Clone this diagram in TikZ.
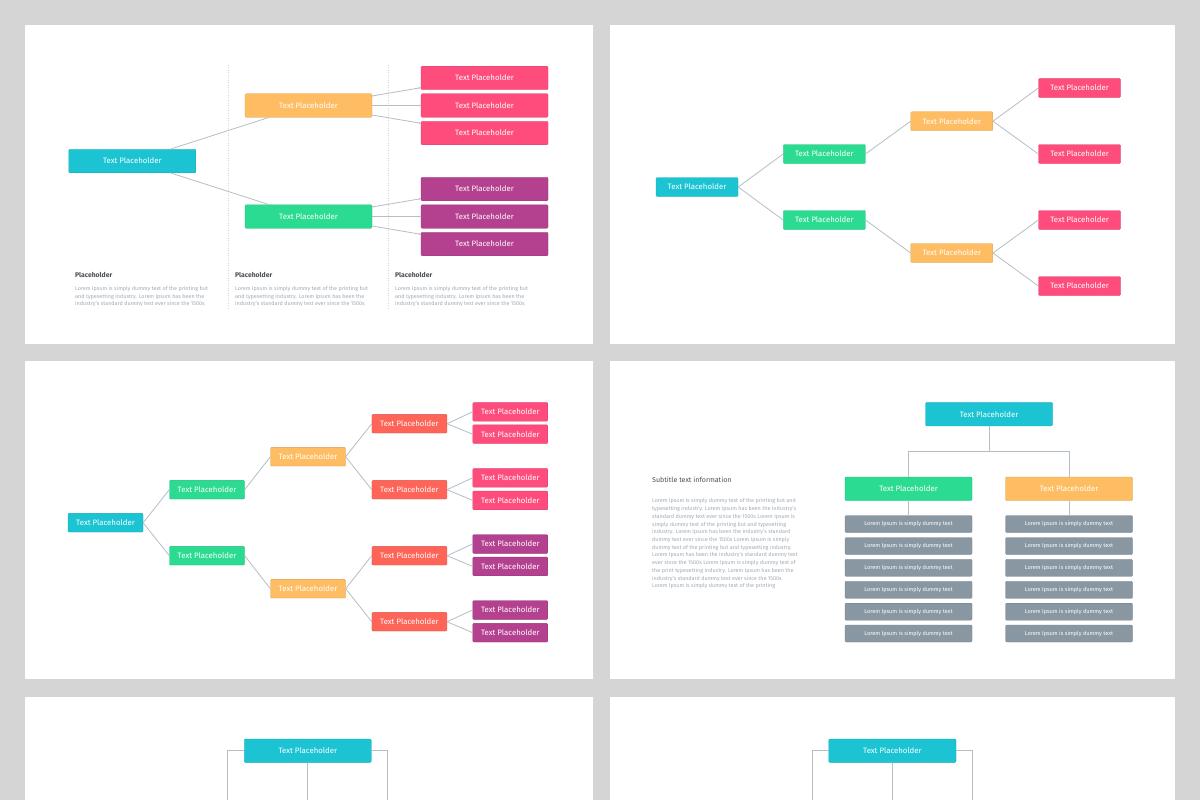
\documentclass[tikz,border=0pt]{standalone}
\usepackage{fontspec}
\setmainfont{Fira Sans}
\usetikzlibrary{calc,arrows.meta}
\definecolor{bg}{HTML}{D5D5D5}
\definecolor{ccyan}{HTML}{1CC4D3}
\definecolor{cgreen}{HTML}{2BDB91}
\definecolor{corange}{HTML}{FEBD62}
\definecolor{cpink}{HTML}{FE4D7C}
\definecolor{cpurple}{HTML}{B3418F}
\definecolor{ccoral}{HTML}{FE6558}
\definecolor{cgray}{HTML}{8897A2}
\definecolor{cline}{HTML}{B4BEC6}
\definecolor{ctitle}{HTML}{4A4F55}
\definecolor{clorem}{HTML}{A3ABB3}
\tikzset{
  panel/.style={fill=white, draw=none},
  tbox/.style={rounded corners=1pt, text=white, inner sep=0pt, align=center,
    font=\fontsize{7.8}{9}\selectfont, draw=#1!85!black, line width=0.3pt, fill=#1},
  bigbox/.style={tbox=#1, minimum width=127pt, minimum height=23.5pt},
  smallbox/.style={tbox=#1, minimum width=82pt, minimum height=19pt},
  midbox/.style={tbox=#1, minimum width=75pt, minimum height=18.7pt},
  graybox/.style={tbox=cgray, minimum width=127pt, minimum height=17pt, font=\fontsize{5.6}{6.5}\selectfont},
  conn/.style={draw=cline, line width=0.8pt},
  arr/.style={conn, -{Stealth[length=2pt,width=2pt]}},
  guide/.style={draw=cline!60, line width=0.5pt, dotted},
  ttl/.style={text=ctitle, inner sep=0pt, anchor=west, font=\fontsize{7}{8}\selectfont},
  lorem/.style={text=clorem, inner sep=0pt, anchor=north west, align=left, font=\fontsize{5.45}{7.6}\selectfont},
}
\begin{document}
\begin{tikzpicture}[x=1pt,y=-1pt]
\fill[bg] (0,0) rectangle (1200,800);
\useasboundingbox (0,0) rectangle (1200,800);
% panels
\fill[panel] (25,25) rectangle (593,344);
\fill[panel] (610,25) rectangle (1175,344);
\fill[panel] (25,361) rectangle (593,679);
\fill[panel] (610,361) rectangle (1175,679);
\fill[panel] (25,697) rectangle (593,800);
\fill[panel] (610,697) rectangle (1175,800);

% ---------------- slide 1
\coordinate (d1a) at (228,65); \coordinate (d1b) at (228,308);
\coordinate (d2a) at (388.5,65); \coordinate (d2b) at (388.5,308);
\draw[guide] (d1a) -- (d1b);
\draw[guide] (d2a) -- (d2b);
\node[bigbox=ccyan] (a0) at (132.3,161) {Text Placeholder};
\node[bigbox=corange] (a1) at (308.5,105.5) {Text Placeholder};
\node[bigbox=cgreen] (a2) at (308.5,216.5) {Text Placeholder};
\node[bigbox=cpink] (p1) at (484.5,78) {Text Placeholder};
\node[bigbox=cpink] (p2) at (484.5,105.5) {Text Placeholder};
\node[bigbox=cpink] (p3) at (484.5,133) {Text Placeholder};
\node[bigbox=cpurple] (q1) at (484.5,189) {Text Placeholder};
\node[bigbox=cpurple] (q2) at (484.5,216.5) {Text Placeholder};
\node[bigbox=cpurple] (q3) at (484.5,244) {Text Placeholder};
\draw[conn] ($(a0.north west)!0.8!(a0.north east)$) -- ($(a1.south west)!0.19!(a1.south east)$);
\draw[conn] ($(a0.south west)!0.8!(a0.south east)$) -- ($(a2.north west)!0.19!(a2.north east)$);
\draw[arr] ([yshift=9.5pt]a1.east) -- ([yshift=-9.7pt]p1.west);
\draw[arr] (a1.east) -- (p2.west);
\draw[arr] ([yshift=-9.5pt]a1.east) -- ([yshift=9.7pt]p3.west);
\draw[arr] ([yshift=9.5pt]a2.east) -- ([yshift=-9.7pt]q1.west);
\draw[arr] (a2.east) -- (q2.west);
\draw[arr] ([yshift=-9.5pt]a2.east) -- ([yshift=9.7pt]q3.west);
\foreach \x/\n in {75/c1,235/c2,395/c3}{
  \node[ttl, font=\fontsize{6.8}{8}\selectfont\bfseries] (\n t) at (\x,275) {Placeholder};
  \node[lorem] (\n l) at (\x,286.3) {Lorem Ipsum is simply dummy text of the printing but\\and typesetting industry. Lorem Ipsum has been the\\industry's standard dummy text ever since the 1500s};
}

% ---------------- slide 2
\node[smallbox=ccyan] (b0) at (697,187) {Text Placeholder};
\node[smallbox=cgreen] (b1) at (824.3,154) {Text Placeholder};
\node[smallbox=cgreen] (b2) at (824.3,220) {Text Placeholder};
\node[smallbox=corange] (b3) at (951.8,121.2) {Text Placeholder};
\node[smallbox=corange] (b4) at (951.8,253) {Text Placeholder};
\node[smallbox=cpink] (b5) at (1079.5,88) {Text Placeholder};
\node[smallbox=cpink] (b6) at (1079.5,154) {Text Placeholder};
\node[smallbox=cpink] (b7) at (1079.5,220) {Text Placeholder};
\node[smallbox=cpink] (b8) at (1079.5,286) {Text Placeholder};
\foreach \s/\t in {b0/b1,b0/b2,b1/b3,b2/b4,b3/b5,b3/b6,b4/b7,b4/b8}
  \draw[conn] (\s.east) -- (\t.west);

% ---------------- slide 3
\node[midbox=ccyan] (e0) at (105.5,522.7) {Text Placeholder};
\node[midbox=cgreen] (e1) at (207,489.7) {Text Placeholder};
\node[midbox=cgreen] (e2) at (207,555.7) {Text Placeholder};
\node[midbox=corange] (e3) at (308,456.7) {Text Placeholder};
\node[midbox=corange] (e4) at (308,588.7) {Text Placeholder};
\node[midbox=ccoral] (e5) at (409.4,423.7) {Text Placeholder};
\node[midbox=ccoral] (e6) at (409.4,489.7) {Text Placeholder};
\node[midbox=ccoral] (e7) at (409.4,555.7) {Text Placeholder};
\node[midbox=ccoral] (e8) at (409.4,621.7) {Text Placeholder};
\node[midbox=cpink] (f1) at (510.3,411.8) {Text Placeholder};
\node[midbox=cpink] (f2) at (510.3,434.2) {Text Placeholder};
\node[midbox=cpink] (f3) at (510.3,477.8) {Text Placeholder};
\node[midbox=cpink] (f4) at (510.3,500.4) {Text Placeholder};
\node[midbox=cpurple] (f5) at (510.3,544) {Text Placeholder};
\node[midbox=cpurple] (f6) at (510.3,566.4) {Text Placeholder};
\node[midbox=cpurple] (f7) at (510.3,610) {Text Placeholder};
\node[midbox=cpurple] (f8) at (510.3,632.7) {Text Placeholder};
\foreach \s/\t in {e0/e1,e0/e2,e1/e3,e2/e4,e3/e5,e3/e6,e4/e7,e4/e8,e5/f1,e5/f2,e6/f3,e6/f4,e7/f5,e7/f6,e8/f7,e8/f8}
  \draw[conn] (\s.east) -- (\t.west);

% ---------------- slide 4
\node[bigbox=ccyan] (h0) at (989,414.2) {Text Placeholder};
\node[bigbox=cgreen] (h1) at (908.5,488.8) {Text Placeholder};
\node[bigbox=corange] (h2) at (1069,488.8) {Text Placeholder};
\draw[conn] (h0.south) -- ++(0,25) -| (h1.north);
\draw[conn] (h0.south) -- ++(0,25) -| (h2.north);
\foreach \i/\y in {1/524,2/546,3/567.8,4/589.8,5/611.7,6/633.5}{
  \node[graybox] (gl\i) at (908.5,\y) {Lorem Ipsum is simply dummy text};
  \node[graybox] (gr\i) at (1069,\y) {Lorem Ipsum is simply dummy text};
}
\draw[conn] (h1.south) -- (gl1.north);
\draw[conn] (h2.south) -- (gr1.north);
\node[ttl, font=\fontsize{7.1}{8}\selectfont] (st) at (652,479.5) {Subtitle text information};
\node[lorem, font=\fontsize{5.45}{7.73}\selectfont] (sp) at (652,498.4) {Lorem Ipsum is simply dummy text of the printing but and\\
typesetting industry. Lorem Ipsum has been the industry's\\
standard dummy text ever since the 1500s Lorem Ipsum is\\
simply dummy text of the printing but and typesetting\\
industry. Lorem Ipsum has been the industry's standard\\
dummy text ever since the 1500s Lorem Ipsum is simply\\
dummy text of the printing but and typesetting industry.\\
Lorem Ipsum has been the industry's standard dummy text\\
ever since the 1500s Lorem Ipsum is simply dummy text of\\
the print typesetting industry. Lorem Ipsum has been the\\
industry's standard dummy text ever since the 1500s\\
Lorem Ipsum is simply dummy text of the printing};

% ---------------- slide 5
\node[bigbox=ccyan, minimum height=23.3pt] (k0) at (307.8,750.7) {Text Placeholder};
\coordinate (k1) at (227.5,750.7); \coordinate (k1b) at (227.5,800);
\coordinate (k2) at (387.8,750.7); \coordinate (k2b) at (387.8,800);
\coordinate (k3b) at (307.8,800);
\draw[conn] (k0.west) -- (k1) -- (k1b);
\draw[conn] (k0.east) -- (k2) -- (k2b);
\draw[conn] (k0.south) -- (k3b);

% ---------------- slide 6
\node[bigbox=ccyan, minimum height=23.3pt, minimum width=127.3pt] (m0) at (892.4,750.7) {Text Placeholder};
\coordinate (m1) at (812.5,750.7); \coordinate (m1b) at (812.5,800);
\coordinate (m2) at (972.5,750.7); \coordinate (m2b) at (972.5,800);
\coordinate (m3b) at (892.4,800);
\draw[conn] (m0.west) -- (m1) -- (m1b);
\draw[conn] (m0.east) -- (m2) -- (m2b);
\draw[conn] (m0.south) -- (m3b);
\end{tikzpicture}
\end{document}
